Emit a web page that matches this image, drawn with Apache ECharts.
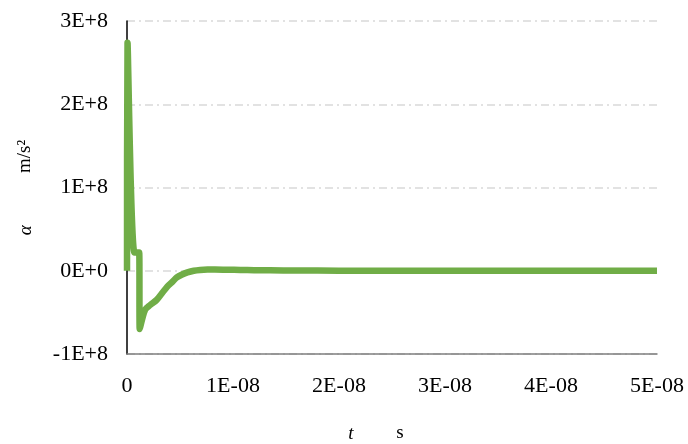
<!DOCTYPE html>
<html>
<head>
<meta charset="utf-8">
<script src="https://cdn.jsdelivr.net/npm/echarts@6/dist/echarts.min.js"></script>
<style>
  html, body { margin: 0; padding: 0; background: #fff; }
  #chart { width: 688px; height: 444px; }
</style>
</head>
<body>
<div id="chart"></div>
<script>
// Time (s) and acceleration (m/s^2) samples
const timeS = [0, 0.05e-9, 0.7e-9, 1.15e-9, 1.2e-9, 1.7e-9, 2.2e-9, 2.8e-9, 3.3e-9, 3.8e-9,
  4.3e-9, 4.7e-9, 5.2e-9, 5.7e-9, 6.3e-9, 6.9e-9, 7.6e-9, 8.3e-9, 9.5e-9, 1.07e-8,
  1.2e-8, 1.35e-8, 1.6e-8, 2.0e-8, 2.5e-8, 3.0e-8, 3.5e-8, 4.0e-8, 4.5e-8, 5.0e-8];
const accel = [0, 2.74e8, 0.22e8, 0.22e8, -0.70e8, -0.47e8, -0.41e8, -0.35e8, -0.27e8, -0.19e8,
  -0.13e8, -0.08e8, -0.045e8, -0.02e8, 0.0, 0.01e8, 0.015e8, 0.015e8, 0.012e8, 0.01e8,
  0.007e8, 0.005e8, 0.003e8, 0.001e8, 0, 0, 0, 0, 0, 0];

// Axis ranges and tick steps
const xRange = [0, 5e-8], xStep = 1e-8;
const yRange = [-1e8, 3e8], yStep = 1e8;

const serif = '"Liberation Serif", "DejaVu Serif", serif';

const chart = echarts.init(document.getElementById('chart'), null, { renderer: 'canvas' });

chart.setOption({
  animation: false,
  grid: { left: 127, right: 31, top: 21, bottom: 90, containLabel: false, outerBoundsMode: 'none' },
  xAxis: {
    type: 'value',
    min: xRange[0], max: xRange[1], interval: xStep,
    name: '{i|t}{n|         s}',
    nameLocation: 'middle',
    nameGap: 70,
    nameTextStyle: {
      padding: [0, 32, 0, 0],
      rich: {
        i: { fontFamily: serif, fontStyle: 'italic', fontSize: 19, color: '#000' },
        n: { fontFamily: serif, fontSize: 19, color: '#000' }
      }
    },
    axisLine: { show: true, onZero: false, lineStyle: { color: '#7f7f7f', width: 1.5 } },
    axisTick: { show: false },
    splitLine: { show: false },
    axisLabel: {
      margin: 21,
      fontFamily: serif, fontSize: 22, color: '#000',
      formatter: v => {
        const k = Math.round(v / xStep);
        return k === 0 ? '0' : k + 'E-08';
      }
    }
  },
  yAxis: {
    type: 'value',
    min: yRange[0], max: yRange[1], interval: yStep,
    name: '{i|α}{n|           m/s²}',
    nameLocation: 'middle',
    nameGap: 92,
    nameRotate: 90,
    nameTextStyle: {
      rich: {
        i: { fontFamily: serif, fontStyle: 'italic', fontSize: 19, color: '#000' },
        n: { fontFamily: serif, fontSize: 19, color: '#000' }
      }
    },
    axisLine: { show: true, onZero: false, lineStyle: { color: '#000', width: 1.5 } },
    axisTick: { show: false },
    splitLine: {
      show: true,
      lineStyle: { color: '#d9d9d9', width: 1.5, type: [8, 4, 2, 4] }
    },
    axisLabel: {
      margin: 19,
      fontFamily: serif, fontSize: 22, color: '#000',
      formatter: v => {
        const k = Math.round(v / yStep);
        return k === 0 ? '0E+0' : k + 'E+8';
      }
    }
  },
  series: [{
    type: 'line',
    data: timeS.map((t, i) => [t, accel[i]]),
    smooth: 0.3,
    showSymbol: false,
    lineStyle: { color: '#70ad47', width: 6.5, join: 'round' },
    itemStyle: { color: '#70ad47' }
  }]
});
</script>
</body>
</html>
